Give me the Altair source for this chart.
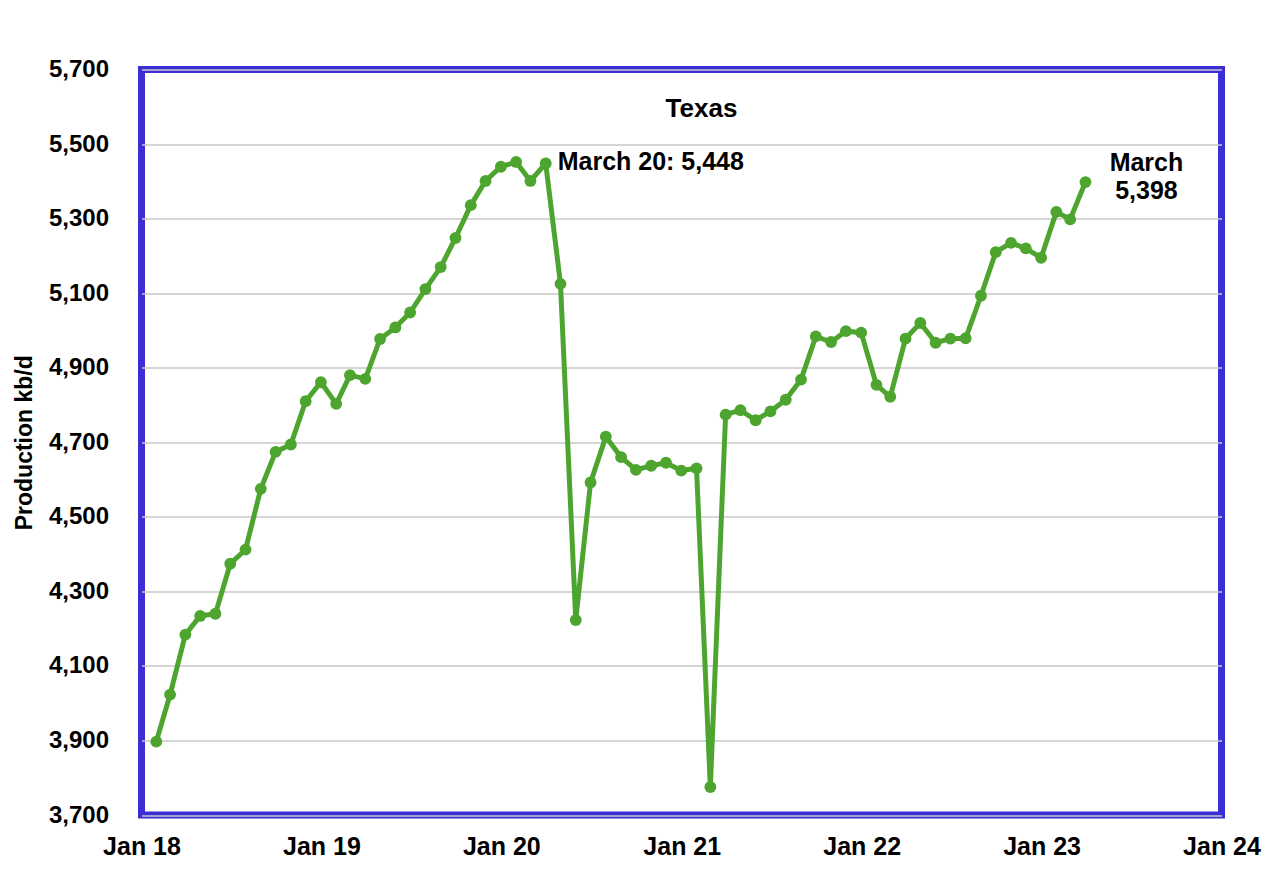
import altair as alt
import pandas as pd

# Monthly Texas production (kb/d), Jan 2018 .. Mar 2023
prod_2018 = [3897, 4023, 4184, 4234, 4240, 4374, 4412, 4575, 4674, 4694, 4810, 4861]
prod_2019 = [4803, 4880, 4870, 4977, 5008, 5048, 5111, 5170, 5248, 5336, 5401, 5439]
prod_2020 = [5452, 5401, 5448, 5125, 4223, 4592, 4715, 4660, 4626, 4637, 4645, 4624]
prod_2021 = [4630, 3775, 4774, 4786, 4759, 4783, 4814, 4868, 4984, 4969, 4998, 4994]
prod_2022 = [4854, 4822, 4978, 5020, 4967, 4978, 4979, 5093, 5210, 5235, 5220, 5195]
prod_2023 = [5318, 5298, 5398]

values = prod_2018 + prod_2019 + prod_2020 + prod_2021 + prod_2022 + prod_2023
months = (pd.date_range("2018-01-01", periods=len(values), freq="MS") + pd.offsets.MonthEnd(0))

df = pd.DataFrame({"date": months, "kbd": values})

# annotations
ann_dates = [pd.Timestamp("2020-03-31"), pd.Timestamp("2023-03-31")]
ann_values = [5448, 5398]
ann_text = ["March 20: 5,448", "March\n5,398"]

y_ticks = list(range(3700, 5701, 200))
x_ticks = [alt.DateTime(year=y, month=1, date=1) for y in range(2018, 2025)]

FONT = "Liberation Sans, Arial, Helvetica, sans-serif"
GREEN = "#4DA52F"
BLUE = "#3B2ED5"

x_enc = alt.X(
    "date:T",
    scale=alt.Scale(domain=[alt.DateTime(year=2018, month=1, date=1),
                            alt.DateTime(year=2024, month=1, date=1)], nice=False),
    axis=alt.Axis(values=x_ticks, format="%b %y", title=None, grid=False, domain=False,
                  ticks=False, tickSize=0, labelPadding=19, labelFlush=False,
                  labelOverlap=False, labelFontSize=25, labelFontWeight="bold",
                  labelColor="black", labelFont=FONT),
)
y_enc = alt.Y(
    "kbd:Q",
    scale=alt.Scale(domain=[3700, 5700], nice=False, zero=False),
    axis=alt.Axis(values=y_ticks, format=",.0f", title="Production kb/d", grid=True,
                  gridColor="#C8C8C8", gridWidth=1.5, domain=False, ticks=False,
                  tickSize=0, labelPadding=33, labelFontSize=24, labelFontWeight="bold",
                  labelColor="black", labelFont=FONT, titleFontSize=23,
                  titleFontWeight="bold", titleFont=FONT, titleColor="black",
                  titleX=-110, titleY=372.75, titleBaseline="alphabetic",
                  titleAngle=270),
)

line = alt.Chart(df).mark_line(color=GREEN, strokeWidth=5).encode(x=x_enc, y=y_enc)
pts = alt.Chart(df).mark_circle(color=GREEN, size=140, opacity=1).encode(x="date:T", y="kbd:Q")

ann_df = pd.DataFrame({"date": ann_dates, "kbd": ann_values, "label": ann_text})
ann1 = alt.Chart(ann_df.iloc[[0]]).mark_text(
    align="left", baseline="alphabetic", dx=12, dy=7, fontSize=25, fontWeight="bold",
    font=FONT, color="black"
).encode(x="date:T", y="kbd:Q", text="label:N")
ann2 = alt.Chart(ann_df.iloc[[1]]).mark_text(
    align="center", baseline="alphabetic", dx=61, dy=-11, fontSize=25, fontWeight="bold",
    font=FONT, color="black", lineBreak="\n", lineHeight=28
).encode(x="date:T", y="kbd:Q", text="label:N")

title_df = pd.DataFrame({"t": ["Texas"]})
title = alt.Chart(title_df).mark_text(
    align="center", baseline="alphabetic", fontSize=26, fontWeight="bold", font=FONT,
    color="black"
).encode(x=alt.value(560), y=alt.value(47), text="t:N")

chart = alt.layer(line, pts, ann1, ann2, title).properties(
    width=1080, height=745.5,
    autosize=alt.AutoSizeParams(type="none"),
    padding={"left": 133.5, "top": 61.5, "right": 50, "bottom": 55},
    background="white",
).configure_view(stroke=BLUE, strokeWidth=7)

chart.save("out.html", embed_options={"renderer": "svg", "actions": False})
